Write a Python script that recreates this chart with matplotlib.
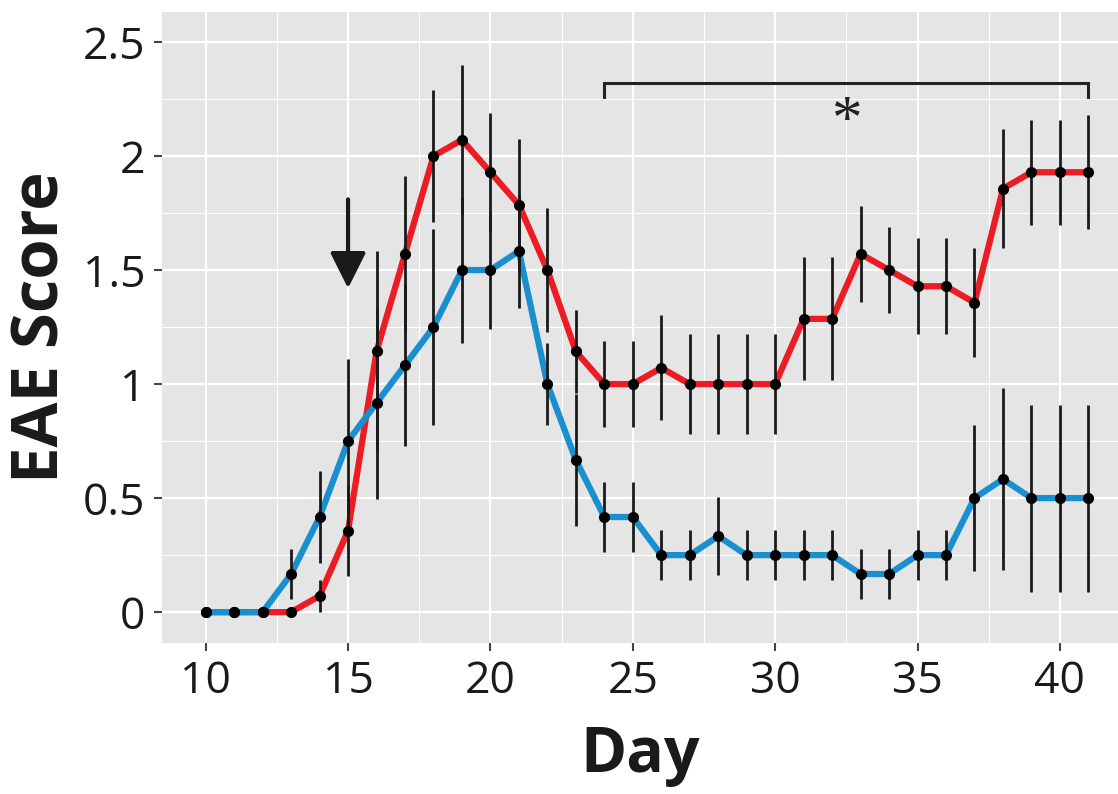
import matplotlib
matplotlib.use("Agg")
import matplotlib.pyplot as plt
from matplotlib.ticker import MultipleLocator


''' data read off the figure '''
days = list(range(10, 42))

red_score = [0, 0, 0, 0, 0.071, 0.357, 1.143, 1.571, 2.0, 2.071, 1.929, 1.786,
             1.5, 1.143, 1.0, 1.0, 1.071, 1.0, 1.0, 1.0, 1.0, 1.286, 1.286,
             1.571, 1.5, 1.429, 1.429, 1.357, 1.857, 1.929, 1.929, 1.929]
red_err = [0, 0, 0, 0, 0.07, 0.2, 0.44, 0.34, 0.29, 0.33, 0.26, 0.29,
           0.27, 0.18, 0.19, 0.19, 0.23, 0.22, 0.22, 0.22, 0.22, 0.27, 0.27,
           0.21, 0.19, 0.21, 0.21, 0.24, 0.26, 0.23, 0.23, 0.25]

blue_score = [0, 0, 0, 0.167, 0.417, 0.75, 0.917, 1.083, 1.25, 1.5, 1.5, 1.583,
              1.0, 0.667, 0.417, 0.417, 0.25, 0.25, 0.333, 0.25, 0.25, 0.25, 0.25,
              0.167, 0.167, 0.25, 0.25, 0.5, 0.583, 0.5, 0.5, 0.5]
blue_err = [0, 0, 0, 0.11, 0.2, 0.36, 0.42, 0.355, 0.43, 0.32, 0.26, 0.25,
            0.18, 0.29, 0.155, 0.155, 0.11, 0.11, 0.17, 0.11, 0.11, 0.11, 0.11,
            0.11, 0.11, 0.11, 0.11, 0.32, 0.40, 0.41, 0.41, 0.41]

# significance bracket and arrow
bracket_days = (24, 41)
bracket_y = 2.32
star_pos = (32.5, 2.15)
arrow_day = 15
arrow_from, arrow_to = 1.81, 1.42

red = "#ec1c24"
blue = "#1a8fd0"


''' plotting '''
fig = plt.figure(figsize=(11.18, 7.94), dpi=100)
ax = fig.add_axes([0.145, 0.19, 0.855, 0.795])
ax.set_facecolor("#e5e5e5")

ax.xaxis.set_major_locator(MultipleLocator(5))
ax.xaxis.set_minor_locator(MultipleLocator(2.5))
ax.yaxis.set_major_locator(MultipleLocator(0.5))
ax.yaxis.set_minor_locator(MultipleLocator(0.25))
ax.grid(which="major", color="white", lw=1.6)
ax.grid(which="minor", color="white", lw=0.8)
ax.set_axisbelow(True)
for s in ax.spines.values():
    s.set_visible(False)

for score, err, col in [(red_score, red_err, red), (blue_score, blue_err, blue)]:
    ax.plot(days, score, color=col, lw=4.5, zorder=2, solid_capstyle="butt")
    ax.errorbar(days, score, yerr=err, fmt="none", ecolor="#1a1a1a",
                elinewidth=2.0, capsize=0, zorder=3)
    ax.plot(days, score, "o", color="black", ms=7, zorder=4)

# bracket with asterisk
x0, x1 = bracket_days
ax.plot([x0, x0, x1, x1], [bracket_y - 0.06, bracket_y, bracket_y, bracket_y - 0.06],
        color="#222222", lw=2.2, solid_joinstyle="miter")
ax.text(star_pos[0], star_pos[1], "*", fontsize=44, ha="center", va="center",
        family="Liberation Serif", color="#222222")

ax.annotate("", xy=(arrow_day, arrow_to), xytext=(arrow_day, arrow_from),
            arrowprops=dict(arrowstyle="-|>,head_length=1.1,head_width=0.55",
                            mutation_scale=20, lw=3, color="#1a1a1a",
                            shrinkA=0, shrinkB=0))

ax.set_xlim(8.47, 42.04)
ax.set_ylim(-0.136, 2.632)
ax.set_yticks([0, 0.5, 1, 1.5, 2, 2.5])
ax.set_yticklabels(["0", "0.5", "1", "1.5", "2", "2.5"])

ax.tick_params(which="major", length=6, width=1.5, color="#444444",
               labelsize=32, labelcolor="#1a1a1a", pad=6)
ax.tick_params(which="minor", length=0)
for lab in ax.get_xticklabels() + ax.get_yticklabels():
    lab.set_family("Open Sans")

ax.set_xlabel("Day", fontsize=45, fontweight="bold", family="Open Sans",
              color="#1a1a1a", labelpad=14)
ax.set_ylabel("EAE Score", fontsize=47, fontweight="bold", family="Open Sans",
              color="#1a1a1a", labelpad=6)

fig.savefig("out.png", dpi=100)
